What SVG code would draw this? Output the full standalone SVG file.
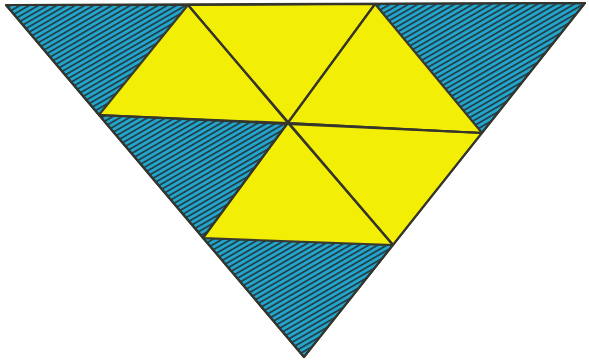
<svg xmlns="http://www.w3.org/2000/svg" width="589" height="362" viewBox="0 0 589 362">
<defs>
<pattern id="hatch" patternUnits="userSpaceOnUse" width="10" height="4.6" patternTransform="rotate(-30)">
<rect width="10" height="4.6" fill="#23a6cc"/>
<rect y="0" width="10" height="1.8" fill="#23404c"/>
</pattern>
</defs>
<style>
.blue{fill:url(#hatch);stroke:#2d3a3e;stroke-width:2;stroke-linejoin:round}
.yel{fill:#f2ee05;stroke:#3a3a2e;stroke-width:2;stroke-linejoin:round}
.ln{stroke:#35352c;stroke-width:2.2;fill:none;stroke-linecap:round;stroke-linejoin:round}
</style>
<g id="corner-top-left"><polygon class="blue" points="6,5 188,5 99,115"/></g>
<g id="corner-top-right"><polygon class="blue" points="375,4 585,3 482,133"/></g>
<g id="corner-bottom"><polygon class="blue" points="203,238 393,245 304,357"/></g>
<g id="left-middle"><polygon class="blue" points="99,115 288,123 203,238"/></g>
<g id="yellow-top"><polygon class="yel" points="188,5 375,4 288,123"/></g>
<g id="yellow-upper-left"><polygon class="yel" points="188,5 288,123 99,115"/></g>
<g id="yellow-upper-right"><polygon class="yel" points="375,4 482,133 288,123"/></g>
<g id="yellow-lower-right"><polygon class="yel" points="482,133 393,245 288,123"/></g>
<g id="yellow-lower"><polygon class="yel" points="288,123 393,245 203,238"/></g>
<g id="connectors">
<line class="ln" x1="188" y1="5" x2="393" y2="245"/>
<line class="ln" x1="375" y1="4" x2="203" y2="238"/>
<line class="ln" x1="99" y1="115" x2="482" y2="133"/>
<polygon class="ln" points="6,5 585,3 304,357"/>
</g>
</svg>
